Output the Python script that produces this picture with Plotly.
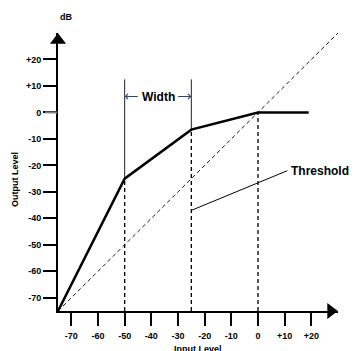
import plotly.graph_objects as go

# compressor transfer curve (input dB -> output dB)
curve_in = [-75, -50, -25, 0, 19]
curve_out = [-75, -25, -6.5, 0, 0]

# unity-gain reference line
unity_in = [-75, 30]
unity_out = [-75, 30]

# knee markers: input level, curve level there
knee_in = [-50, -25, 0]
knee_out = [-25, -6.5, 0]
width_top = 12.5
width_level = 6

# threshold leader line
leader_in = [-25, 11]
leader_out = [-37, -22]

ticks = [-70, -60, -50, -40, -30, -20, -10, 0, 10, 20]
tick_text = ["-70", "-60", "-50", "-40", "-30", "-20", "-10", "0", "+10", "+20"]

FONT = "Liberation Sans, Arial, sans-serif"
floor = -75

fig = go.Figure()

# dashed verticals from the floor to the curve
for x, y in zip(knee_in, knee_out):
    fig.add_trace(go.Scatter(x=[x, x], y=[floor, y], mode="lines",
                             line=dict(color="black", width=1.3, dash="4px,3px"),
                             hoverinfo="skip", showlegend=False))

# solid "width" verticals
for x, y in zip(knee_in[:2], knee_out[:2]):
    fig.add_trace(go.Scatter(x=[x, x], y=[y, width_top], mode="lines",
                             line=dict(color="#222", width=1),
                             hoverinfo="skip", showlegend=False))

fig.add_trace(go.Scatter(x=unity_in, y=unity_out, mode="lines",
                         line=dict(color="black", width=0.9, dash="4px,3px"),
                         hoverinfo="skip", showlegend=False))

fig.add_trace(go.Scatter(x=leader_in, y=leader_out, mode="lines",
                         line=dict(color="black", width=1),
                         hoverinfo="skip", showlegend=False))

fig.add_trace(go.Scatter(x=curve_in, y=curve_out, mode="lines",
                         line=dict(color="black", width=2.5),
                         hoverinfo="skip", showlegend=False, cliponaxis=False))

# axis arrowheads
fig.add_trace(go.Scatter(x=[27.3, floor], y=[floor, 27.3], mode="markers",
                         marker=dict(symbol=["triangle-right", "triangle-up"], size=14, color="black"),
                         hoverinfo="skip", showlegend=False, cliponaxis=False))

bold = dict(family=FONT, size=9, color="black", weight="bold")
annotations = [
    dict(x=-37.5, y=width_level, text="Width", showarrow=False,
         font=dict(family=FONT, size=12, color="black", weight="bold")),
    dict(x=-50, y=width_level, ax=-44.5, ay=width_level, axref="x", ayref="y",
         text="", showarrow=True, arrowhead=4, arrowsize=1, arrowwidth=1),
    dict(x=-25, y=width_level, ax=-30.5, ay=width_level, axref="x", ayref="y",
         text="", showarrow=True, arrowhead=4, arrowsize=1, arrowwidth=1),
    dict(x=11.5, y=-22, text="Threshold", showarrow=False, xanchor="left",
         font=dict(family=FONT, size=12, color="black", weight="bold")),
    dict(x=0, y=1, xref="paper", yref="paper", yshift=23, text="dB", showarrow=False, font=bold),
    dict(x=1, y=0, xref="paper", yref="paper", xshift=14, yshift=-2, xanchor="left",
         yanchor="middle", text="dB", showarrow=False, font=bold),
    dict(x=0, y=0.5, xref="paper", yref="paper", xshift=-50, yshift=-8, text="Output Level",
         textangle=-90, showarrow=False, font=bold),
    dict(x=0.5, y=0, xref="paper", yref="paper", yshift=-31, yanchor="top", text="Input Level",
         showarrow=False, font=bold),
]

axis_common = dict(range=[floor, 30], tickvals=ticks, ticktext=tick_text,
                   showline=True, linecolor="black", linewidth=2,
                   ticks="outside", ticklen=13, tickwidth=2, tickcolor="black",
                   showgrid=False, zeroline=False, tickfont=bold, fixedrange=True,
                   automargin=False)

# the page body adds an 8px offset, so the figure is drawn 8px smaller
fig.update_layout(
    width=350, height=343,
    margin=dict(l=50, r=20, t=25, b=40),
    plot_bgcolor="white", paper_bgcolor="white",
    xaxis=dict(axis_common, ticklabelstandoff=2),
    yaxis=axis_common,
    annotations=annotations,
    # the 0 dB output tick is drawn grey in the reference
    shapes=[dict(type="line", xref="paper", yref="y", x0=-13 / 280, x1=-0.003, y0=0, y1=0,
                 line=dict(color="#808080", width=2), layer="above")],
)

fig.write_html("out.html")
